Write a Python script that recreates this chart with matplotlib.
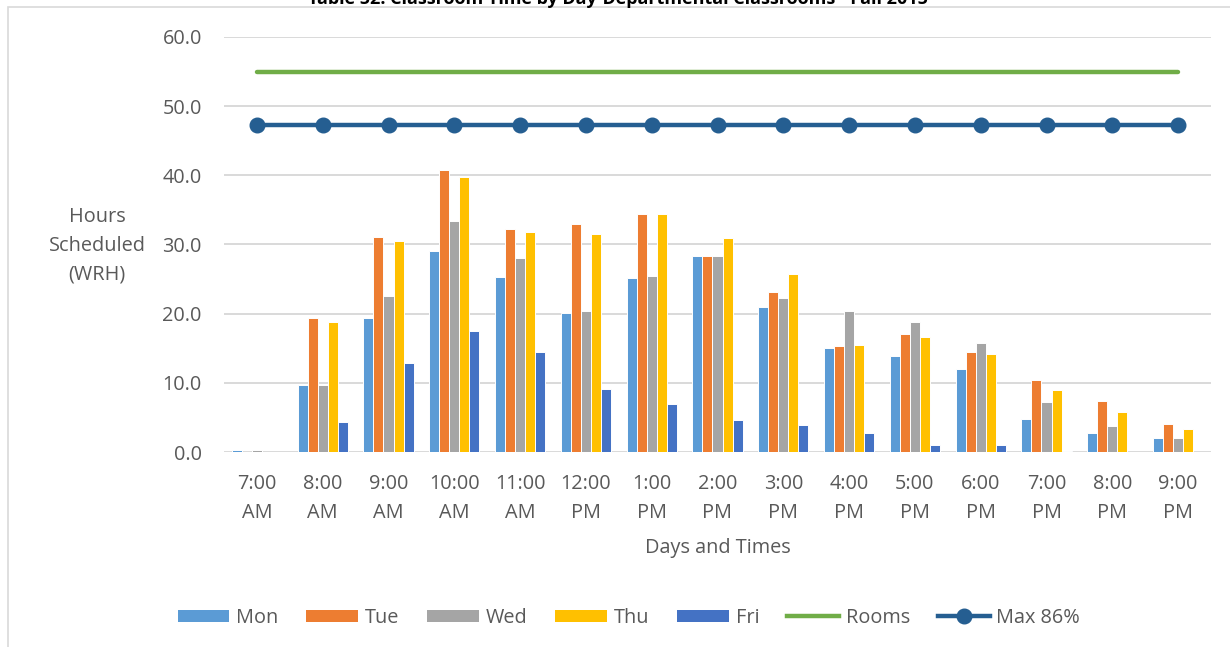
import matplotlib
matplotlib.use("Agg")
import matplotlib.pyplot as plt
import numpy as np
from matplotlib.patches import Patch, Rectangle
from matplotlib.lines import Line2D

times = ["7:00\nAM", "8:00\nAM", "9:00\nAM", "10:00\nAM", "11:00\nAM", "12:00\nPM",
         "1:00\nPM", "2:00\nPM", "3:00\nPM", "4:00\nPM", "5:00\nPM", "6:00\nPM",
         "7:00\nPM", "8:00\nPM", "9:00\nPM"]

mon = [0.3, 9.7, 19.4, 29.0, 25.3, 20.1, 25.2, 28.3, 20.9, 15.0, 13.9, 12.0, 4.7, 2.8, 2.0]
tue = [0.0, 19.4, 31.1, 40.7, 32.3, 32.9, 34.4, 28.4, 23.1, 15.3, 17.1, 14.5, 10.4, 7.4, 4.0]
wed = [0.3, 9.7, 22.5, 33.4, 28.1, 20.4, 25.5, 28.4, 22.3, 20.4, 18.8, 15.7, 7.2, 3.7, 2.0]
thu = [0.0, 18.8, 30.5, 39.8, 31.8, 31.5, 34.4, 30.9, 25.7, 15.5, 16.6, 14.1, 9.0, 5.8, 3.3]
fri = [0.0, 4.4, 12.9, 17.5, 14.4, 9.1, 7.0, 4.6, 3.9, 2.7, 1.0, 1.0, 0.1, 0.0, 0.0]
rooms = [55.0] * 15
max86 = [47.3] * 15

days = ["Mon", "Tue", "Wed", "Thu", "Fri"]
day_values = [mon, tue, wed, thu, fri]
day_colors = ["#5B9BD5", "#ED7D31", "#A5A5A5", "#FFC000", "#4472C4"]
rooms_color = "#70AD47"
max_color = "#255E91"
text_color = "#595959"
grid_color = "#D9D9D9"
fs = 14.3

plt.rcParams["font.family"] = ["Open Sans", "DejaVu Sans"]

fig = plt.figure(figsize=(12.30, 6.47), dpi=100)
ax = fig.add_axes([224 / 1230, 1 - 452 / 647, (1211 - 224) / 1230, (452 - 37) / 647])

x = np.arange(len(times))
bw = 0.152
for i, (vals, col) in enumerate(zip(day_values, day_colors)):
    ax.bar(x + (i - 2) * bw, vals, width=bw, color=col, edgecolor="white",
           linewidth=0.7, zorder=2)

ax.plot(x, rooms, color=rooms_color, linewidth=3.2, solid_capstyle="round", zorder=3)
ax.plot(x, max86, color=max_color, linewidth=3.2, marker="o", markersize=10.5,
        solid_capstyle="round", zorder=4)

ax.set_xlim(-0.5, len(times) - 0.5)
ax.set_ylim(0, 60)
ax.set_yticks(np.arange(0, 61, 10))
ax.set_yticklabels([f"{v:.1f}" for v in np.arange(0, 61, 10)])
ax.set_xticks(x)
ax.set_xticklabels(times, linespacing=1.6)
ax.tick_params(axis="both", length=0, colors=text_color, labelsize=fs)
ax.tick_params(axis="y", pad=16)
ax.tick_params(axis="x", pad=15.5)
for s in ax.spines.values():
    s.set_visible(False)
ax.grid(axis="y", color=grid_color, linewidth=1.4, zorder=0)
ax.set_axisbelow(True)

fig.text(97 / 1230, 1 - 246 / 647, "Hours\nScheduled\n(WRH)", ha="center", va="center",
         color=text_color, fontsize=fs, linespacing=1.6)
fig.text(718 / 1230, 1 - 548 / 647, "Days and Times", ha="center", va="center",
         color=text_color, fontsize=fs)

fig.text(618 / 1230, 1 - 4 / 647, "Table 52: Classroom Time by Day-Departmental Classrooms - Fall 2015",
         ha="center", va="baseline", fontsize=13, fontweight="bold", color="black")

# chart frame
fig.add_artist(Rectangle((8 / 1230, -0.1), 1.2, 1 - 7 / 647 + 0.1, transform=fig.transFigure,
                         fill=False, edgecolor="#D9D9D9", linewidth=1.2))

handles = [Patch(facecolor=c, edgecolor="none") for c in day_colors]
handles.append(Line2D([], [], color=rooms_color, linewidth=3.2))
handles.append(Line2D([], [], color=max_color, linewidth=3.2, marker="o", markersize=10.5))
labels = days + ["Rooms", "Max 86%"]
leg = fig.legend(handles, labels, loc="center", bbox_to_anchor=(629 / 1230, 1 - 618 / 647),
                 ncol=7, frameon=False, fontsize=fs, handlelength=2.6, handleheight=0.6,
                 handletextpad=0.35, columnspacing=1.4, labelcolor=text_color)

fig.savefig("out.png", dpi=100)
